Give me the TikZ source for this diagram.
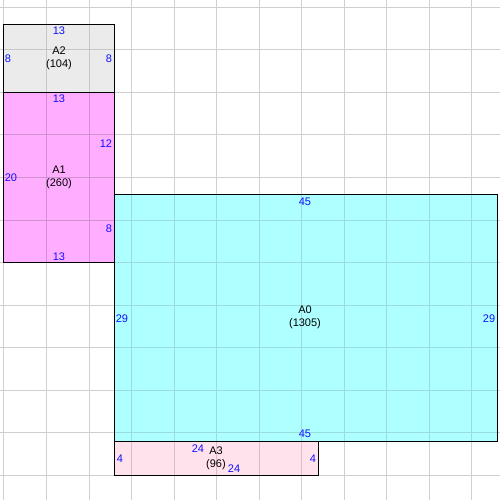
\documentclass[tikz,border=0pt]{standalone}
\usepackage{fontspec}
\setmainfont{Liberation Sans}
\definecolor{fillA0}{HTML}{AEFFFF}
\definecolor{fillA1}{HTML}{FFAEFF}
\definecolor{fillA2}{HTML}{EBEBEB}
\definecolor{fillA3}{HTML}{FFE2EC}
\definecolor{gridW}{HTML}{D0D0D0}
\definecolor{gridA0}{HTML}{9ADCDC}
\definecolor{gridA1}{HTML}{D290D2}
\definecolor{gridA2}{HTML}{C6C6C6}
\definecolor{gridA3}{HTML}{D8BEC6}
\definecolor{dimc}{HTML}{1010FF}
\newcommand{\gridlines}[1]{%
  \foreach \g in {0,5,...,55} {
    \draw[gridline, draw=#1] (\g,-0.8824) -- (\g,57.9412);
    \draw[gridline, draw=#1] (-0.4706,\g) -- (58.3529,\g);
  }}
\tikzset{
  gridline/.style={line width=1pt},
  room/.style={draw=black, line width=1pt},
  dimlabel/.style={text=dimc, inner sep=0pt, font=\fontsize{11}{13}\selectfont},
  namelabel/.style={text=black, inner sep=0pt, align=center, font=\fontsize{11}{13}\selectfont}
}
\begin{document}
\begin{tikzpicture}[x=8.5pt,y=-8.5pt]
\useasboundingbox (-0.4706,-0.8824) rectangle (58.3529,57.9412);
\fill[white] (-0.4706,-0.8824) rectangle (58.3529,57.9412);
\gridlines{gridW}
% fills with their grid
\begin{scope}
  \clip (0,2) rectangle (13,10);
  \fill[fillA2] (0,2) rectangle (13,10);
  \gridlines{gridA2}
\end{scope}
\begin{scope}
  \clip (0,10) rectangle (13,30);
  \fill[fillA1] (0,10) rectangle (13,30);
  \gridlines{gridA1}
\end{scope}
\begin{scope}
  \clip (13,22) rectangle (58,51);
  \fill[fillA0] (13,22) rectangle (58,51);
  \gridlines{gridA0}
\end{scope}
\begin{scope}
  \clip (13,51) rectangle (37,55);
  \fill[fillA3] (13,51) rectangle (37,55);
  \gridlines{gridA3}
\end{scope}
% outlines
\draw[room] (0,2) rectangle (13,10);
\draw[room] (0,10) rectangle (13,30);
\draw[room] (13,22) rectangle (58,51);
\draw[room] (13,51) rectangle (37,55);
% A2 labels
\node[dimlabel] (a2t) at (6.47,2.76) {13};
\node[dimlabel] (a2l) at (0.47,6.06) {8};
\node[dimlabel] (a2r) at (12.35,6.06) {8};
\node[namelabel] (a2n) at (6.47,5.95) {A2\\(104)};
% A1 labels
\node[dimlabel] (a1t) at (6.47,10.76) {13};
\node[dimlabel] (a1r1) at (12.0,16.06) {12};
\node[dimlabel] (a1l) at (0.82,20.06) {20};
\node[namelabel] (a1n) at (6.47,19.95) {A1\\(260)};
\node[dimlabel] (a1r2) at (12.35,26.06) {8};
\node[dimlabel] (a1b) at (6.47,29.35) {13};
% A0 labels
\node[dimlabel] (a0t) at (35.41,22.88) {45};
\node[dimlabel] (a0l) at (13.88,36.65) {29};
\node[dimlabel] (a0r) at (57.06,36.65) {29};
\node[namelabel] (a0n) at (35.41,36.47) {A0\\(1305)};
\node[dimlabel] (a0b) at (35.41,50.18) {45};
% A3 labels
\node[dimlabel] (a3l) at (13.65,53.12) {4};
\node[dimlabel] (a3r) at (36.35,53.12) {4};
\node[dimlabel] (a3t) at (22.82,51.94) {24};
\node[namelabel] (a3n) at (24.94,53.06) {A3\\(96)};
\node[dimlabel] (a3b) at (27.06,54.29) {24};
\end{tikzpicture}
\end{document}
